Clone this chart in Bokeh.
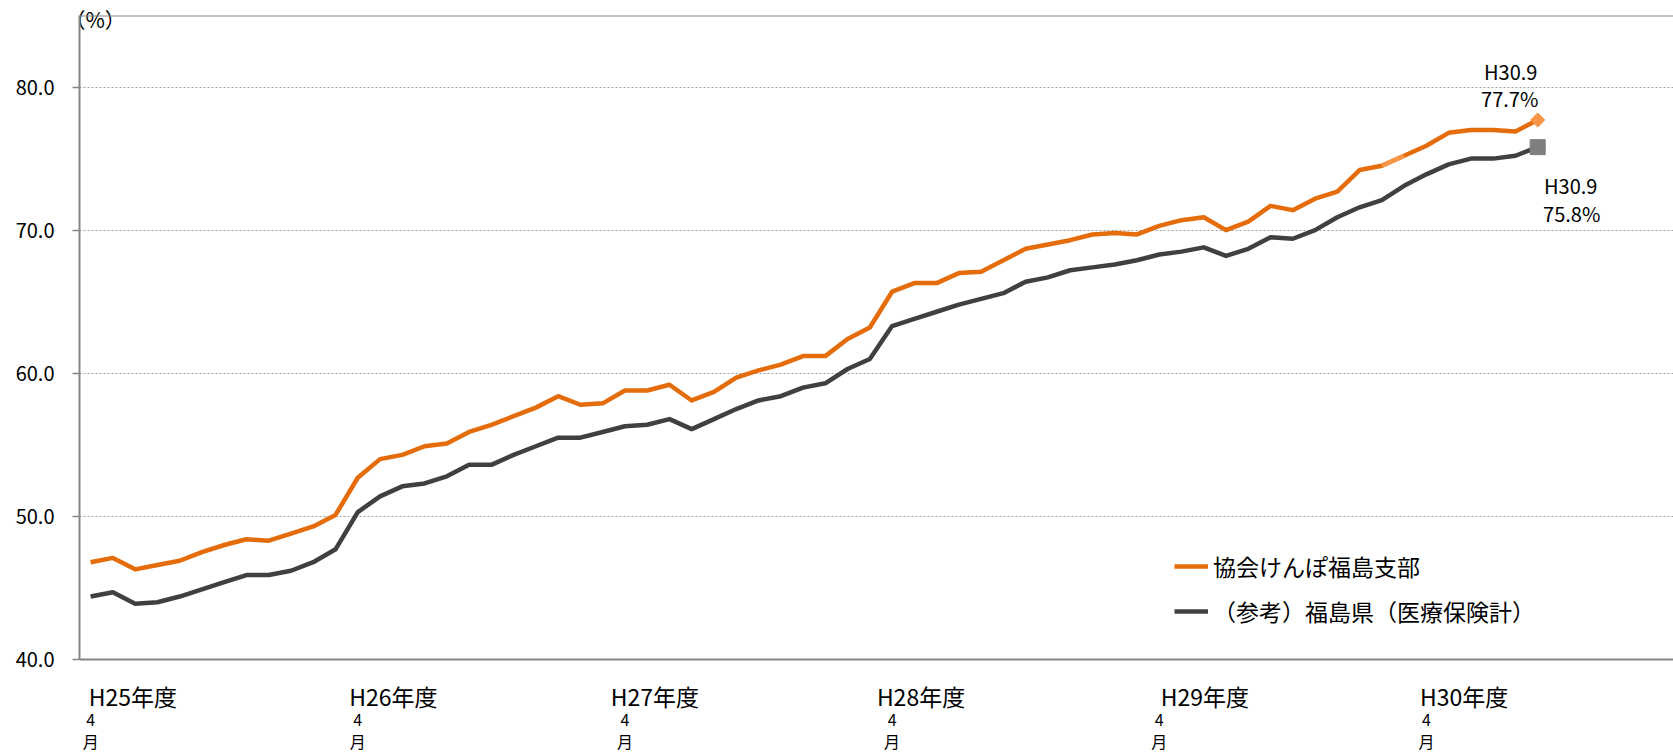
from bokeh.plotting import figure
from bokeh.models import (Range1d, FixedTicker, LinearAxis, Span,
                          Legend, LegendItem)
from bokeh.core.properties import value
from bokeh.embed import file_html
from bokeh.resources import INLINE

FONT = "Noto Sans CJK JP"

# ---- data -------------------------------------------------------------
months = list(range(66))  # H25.4 ... H30.9
kyokai = [46.8, 47.1, 46.3, 46.6, 46.9, 47.5, 48.0, 48.4, 48.3, 48.8, 49.3, 50.1,
          52.7, 54.0, 54.3, 54.9, 55.1, 55.9, 56.4, 57.0, 57.6, 58.4, 57.8, 57.9,
          58.8, 58.8, 59.2, 58.1, 58.7, 59.7, 60.2, 60.6, 61.2, 61.2, 62.4, 63.2,
          65.7, 66.3, 66.3, 67.0, 67.1, 67.9, 68.7, 69.0, 69.3, 69.7, 69.8, 69.7,
          70.3, 70.7, 70.9, 70.0, 70.6, 71.7, 71.4, 72.2, 72.7, 74.2, 74.5, 75.2,
          75.9, 76.8, 77.0, 77.0, 76.9, 77.7]
fukushima = [44.4, 44.7, 43.9, 44.0, 44.4, 44.9, 45.4, 45.9, 45.9, 46.2, 46.8, 47.7,
             50.3, 51.4, 52.1, 52.3, 52.8, 53.6, 53.6, 54.3, 54.9, 55.5, 55.5, 55.9,
             56.3, 56.4, 56.8, 56.1, 56.8, 57.5, 58.1, 58.4, 59.0, 59.3, 60.3, 61.0,
             63.3, 63.8, 64.3, 64.8, 65.2, 65.6, 66.4, 66.7, 67.2, 67.4, 67.6, 67.9,
             68.3, 68.5, 68.8, 68.2, 68.7, 69.5, 69.4, 70.0, 70.9, 71.6, 72.1, 73.1,
             73.9, 74.6, 75.0, 75.0, 75.2, 75.8]
series_names = ["協会けんぽ福島支部", "（参考）福島県（医療保険計）"]
year_ticks = [0, 12, 24, 36, 48, 60]
year_labels = ["H25年度", "H26年度", "H27年度", "H28年度", "H29年度", "H30年度"]
month_label = "4\n月"
y_ticks = [40, 50, 60, 70, 80]
y_tick_labels = ["40.0", "50.0", "60.0", "70.0", "80.0"]
last_period = "H30.9"
last_k_text = "77.7%"
last_f_text = "75.8%"
unit_label = "（%）"

# layout-only constants (category units)
year_label_shift = [1.9, 1.6, 1.35, 1.3, 2.05, 1.7]
unit_label_x = 0.2

ORANGE = "#E46C0A"
ORANGE_LIGHT = "#F79646"
DARK = "#404040"
GRAY = "#7F7F7F"
AXIS = "#868686"

p = figure(width=1673, height=756, output_backend="svg", toolbar_location=None,
           x_range=Range1d(-0.5, 71.1), y_range=Range1d(40, 85),
           min_border_left=79, min_border_right=0, min_border_top=15,
           min_border_bottom=97)
p.outline_line_color = None
p.background_fill_color = "white"
p.border_fill_color = "white"

# grid
p.xgrid.visible = False
p.ygrid.ticker = FixedTicker(ticks=y_ticks[1:])
p.ygrid.grid_line_color = "#A0A0A0"
p.ygrid.grid_line_dash = "2 2"
p.ygrid.grid_line_width = 1

# y axis
ya = p.yaxis[0]
ya.ticker = FixedTicker(ticks=y_ticks)
ya.major_label_overrides = {t: s for t, s in zip(y_ticks, y_tick_labels)}
ya.axis_line_color = AXIS
ya.axis_line_width = 2
ya.major_tick_line_color = AXIS
ya.major_tick_line_width = 1.5
ya.major_tick_out = 7
ya.major_tick_in = 0
ya.minor_tick_line_color = None
ya.major_label_standoff = 18
ya.major_label_text_font = FONT
ya.major_label_text_font_size = "20px"
ya.major_label_text_color = "#000000"

# x axis : year labels
year_pos = [t + s for t, s in zip(year_ticks, year_label_shift)]
xa = p.xaxis[0]
xa.ticker = FixedTicker(ticks=year_pos)
xa.major_label_overrides = {t: s for t, s in zip(year_pos, year_labels)}
xa.axis_line_color = AXIS
xa.axis_line_width = 2
xa.major_tick_line_color = None
xa.minor_tick_line_color = None
xa.major_tick_out = 0
xa.major_tick_in = 0
xa.major_label_standoff = 19
xa.major_label_text_font = FONT
xa.major_label_text_font_size = "23px"
xa.major_label_text_line_height = 0.85
xa.major_label_text_color = "#000000"

# x axis : month labels
xa2 = LinearAxis(ticker=FixedTicker(ticks=year_ticks),
                 major_label_overrides={t: month_label for t in year_ticks})
xa2.axis_line_color = None
xa2.major_tick_line_color = None
xa2.minor_tick_line_color = None
xa2.major_tick_out = 0
xa2.major_tick_in = 0
xa2.major_label_standoff = -9
xa2.major_label_text_font = FONT
xa2.major_label_text_font_size = "16px"
xa2.major_label_text_line_height = 0.95
xa2.major_label_text_color = "#000000"
p.add_layout(xa2, "below")

# unit label "(%)" as a top axis label
ua = LinearAxis(ticker=FixedTicker(ticks=[unit_label_x]),
                major_label_overrides={unit_label_x: unit_label})
ua.axis_line_color = None
ua.major_tick_line_color = None
ua.minor_tick_line_color = None
ua.major_tick_out = 0
ua.major_tick_in = 0
ua.major_label_standoff = -18
ua.major_label_text_font = FONT
ua.major_label_text_font_size = "21px"
ua.major_label_text_color = "#000000"
p.add_layout(ua, "above")

# top border
p.add_layout(Span(location=85, dimension="width", line_color=AXIS, line_width=2))

# lines
r1 = p.line(months, kyokai, line_color=ORANGE, line_width=4.5, line_join="round")
p.line(months[58:60], kyokai[58:60], line_color=ORANGE_LIGHT, line_width=4.5)
r2 = p.line(months, fukushima, line_color=DARK, line_width=4.5, line_join="round")

# end markers
p.scatter([months[-1]], [kyokai[-1]], marker="square", angle=0.7854, size=10,
          fill_color=ORANGE_LIGHT, line_color=ORANGE_LIGHT)
p.scatter([months[-1]], [fukushima[-1]], marker="square", size=15,
          fill_color=GRAY, line_color=GRAY)

# end labels
common = dict(text_font=value(FONT), text_font_size="20px", text_color="#000000",
              text_align="center", text_baseline="middle")
p.text([months[-1]], [kyokai[-1]], text=[last_period], x_offset=-27, y_offset=-48, **common)
p.text([months[-1]], [kyokai[-1]], text=[last_k_text], x_offset=-28, y_offset=-21, **common)
p.text([months[-1]], [fukushima[-1]], text=[last_period], x_offset=33, y_offset=38, **common)
p.text([months[-1]], [fukushima[-1]], text=[last_f_text], x_offset=34, y_offset=66, **common)

# legend
legend = Legend(items=[LegendItem(label=series_names[0], renderers=[r1]),
                       LegendItem(label=series_names[1], renderers=[r2])],
                location=(1095, 28), orientation="vertical",
                glyph_width=34, glyph_height=40, label_standoff=5, spacing=5,
                padding=0, margin=0, border_line_color=None,
                background_fill_alpha=0,
                label_text_font=FONT, label_text_font_size="23px",
                label_text_color="#000000", label_text_baseline="middle")
p.add_layout(legend)

open("out.html", "w").write(file_html(p, INLINE))
